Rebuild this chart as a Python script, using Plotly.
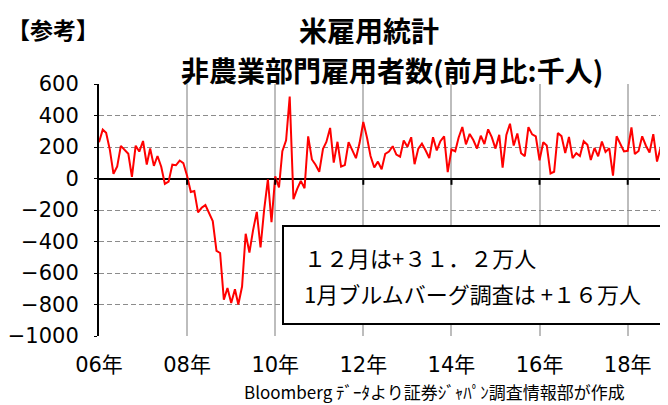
import pandas as pd
import plotly.graph_objects as go

# ---- data (thousands, month-over-month change in nonfarm payrolls) ----
months = pd.date_range("2006-01-01", periods=156, freq="MS")
nfp = [
    # 2006
    230, 310, 290, 182, 30, 77, 207, 184, 157, 10, 208, 171,
    # 2007
    238, 89, 190, 80, 143, 75, -34, -20, 88, 84, 114, 98,
    # 2008
    17, -85, -79, -215, -186, -169, -216, -270, -459, -473, -770, -695,
    # 2009
    -791, -703, -800, -686, -351, -470, -329, -212, -438, -199, -5, -278,
    # 2010
    14, -57, 174, 243, 520, -132, -67, -15, -62, 268, 121, 87,
    # 2011
    43, 189, 232, 321, 101, 233, 76, 85, 231, 181, 129, 225,
    # 2012
    359, 259, 143, 70, 107, 59, 157, 171, 205, 152, 139, 241,
    # 2013
    201, 262, 91, 190, 221, 178, 130, 262, 178, 237, 268, 40,
    # 2014
    184, 173, 259, 327, 217, 283, 244, 190, 272, 219, 312, 263,
    # 2015
    190, 277, 69, 277, 348, 209, 286, 160, 142, 326, 280, 267,
    # 2016
    116, 230, 209, 32, 43, 289, 269, 161, 264, 129, 161, 143,
    # 2017
    237, 214, 118, 194, 141, 235, 169, 192, 18, 268, 221, 172,
    # 2018
    176, 324, 155, 175, 268, 208, 165, 282, 108, 196, 176, 312,
]
y_ticks = [600, 400, 200, 0, -200, -400, -600, -800, -1000]
x_ticks = pd.date_range("2006-01-01", "2018-01-01", freq="24MS")

title_tag = "【参考】"
title_1 = "米雇用統計"
title_2 = "非農業部門雇用者数(前月比:千人)"
note_1 = "１２月は+３１．２万人"
note_2 = "1月ブルムバーグ調査は +１６万人"
source = "Bloomberg ﾃﾞｰﾀより証券ｼﾞｬﾊﾟﾝ調査情報部が作成"

# ---- layout geometry ----
# The page body adds an 8px offset, so the figure is 8px smaller and
# everything below is expressed in page pixels.
OFF = 8
W, H = 668 - OFF, 405 - OFF
PLOT_L, PLOT_R, PLOT_T, PLOT_B = 99, 668, 84, 336   # page pixels
L = PLOT_L - OFF
T = PLOT_T - OFF
R = W - (PLOT_R - OFF)
B = H - (PLOT_B - OFF)
PW, PH = PLOT_R - PLOT_L, PLOT_B - PLOT_T


def px(x):
    return (x - PLOT_L) / PW


def py(y):
    return (PLOT_B - y) / PH


JP = "Noto Sans CJK JP"

fig = go.Figure()
fig.add_trace(go.Scatter(
    x=months, y=nfp, mode="lines",
    line=dict(color="#ff0000", width=2),
    hoverinfo="skip", showlegend=False,
))

# small tick marks crossing the zero line at each x tick
for d in x_ticks[1:]:
    fig.add_shape(type="line", xref="x", yref="y", x0=d, x1=d, y0=0, y1=-40,
                  line=dict(color="black", width=2), layer="above")

# annotation box
fig.add_shape(type="rect", xref="paper", yref="paper",
              x0=px(283), x1=px(667), y0=py(324), y1=py(226),
              line=dict(color="black", width=2), fillcolor="white", layer="above")

ann = [
    dict(text=title_tag, x=px(5), y=py(29), xanchor="left", yanchor="middle",
         font=dict(family=JP, size=23, color="black", weight="bold")),
    dict(text=title_1, x=px(369), y=py(30), xanchor="center", yanchor="middle",
         font=dict(family=JP, size=28, color="black", weight="bold")),
    dict(text=title_2, x=px(392), y=py(70), xanchor="center", yanchor="middle",
         font=dict(family=JP, size=28, color="black", weight="bold")),
    dict(text=note_1, x=px(302), y=py(257), xanchor="left", yanchor="middle",
         font=dict(family=JP, size=22, color="black")),
    dict(text=note_2, x=px(302), y=py(293), xanchor="left", yanchor="middle",
         font=dict(family=JP, size=22, color="black")),
    dict(text=source, x=px(434), y=py(391), xanchor="center", yanchor="middle",
         font=dict(family=JP, size=17, color="black")),
]
for a in ann:
    fig.add_annotation(xref="paper", yref="paper", showarrow=False, **a)

fig.update_layout(
    width=W, height=H,
    margin=dict(l=L, r=R, t=T, b=B, pad=0),
    paper_bgcolor="white", plot_bgcolor="white",
    showlegend=False,
)
fig.update_xaxes(
    range=[months[0], months[-1]],
    tickvals=x_ticks, tickformat="%y年",
    tickfont=dict(family="DejaVu Sans, " + JP, size=21, color="black"),
    showgrid=True, gridcolor="#bdbdbd", gridwidth=1.5,
    showline=False, ticks="", zeroline=False,
    ticklabelstandoff=14,
)
fig.update_yaxes(
    range=[-1000, 600], tickvals=y_ticks,
    tickfont=dict(family="DejaVu Sans", size=21, color="black"),
    showgrid=True, gridcolor="#8c8c8c", gridwidth=1, griddash="5px,3px",
    zeroline=True, zerolinecolor="black", zerolinewidth=2,
    showline=True, linecolor="black", linewidth=2,
    ticks="outside", ticklen=3, tickcolor="black",
    ticklabelstandoff=11,
)

fig.write_html("out.html")
